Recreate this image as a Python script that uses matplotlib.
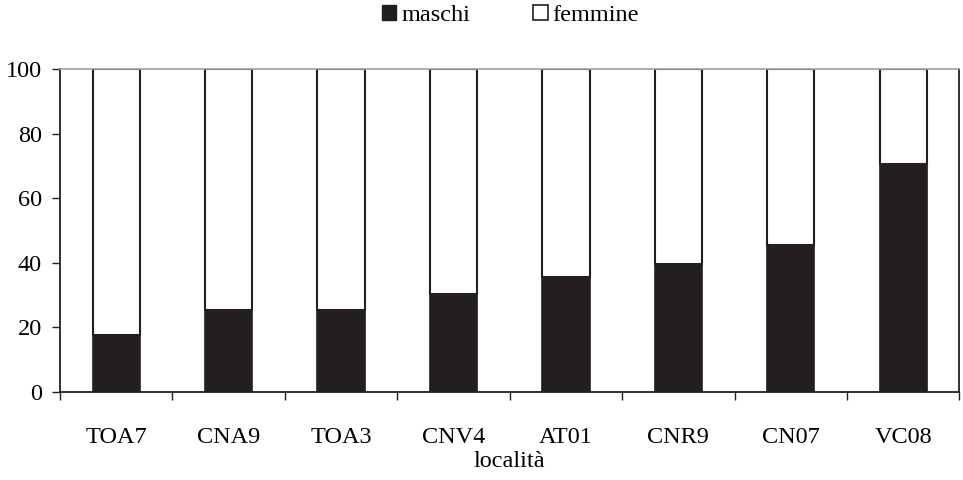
import numpy as np
import matplotlib
matplotlib.use("Agg")
import matplotlib.pyplot as plt
from matplotlib.patches import Patch

# data
localita = ["TOA7", "CNA9", "TOA3", "CNV4", "AT01", "CNR9", "CN07", "VC08"]
maschi = [17.6, 25.5, 25.5, 30.5, 35.5, 39.5, 45.5, 70.5]
femmine = [100 - m for m in maschi]

plt.rcParams["font.family"] = ["Liberation Serif", "DejaVu Serif"]
plt.rcParams["font.size"] = 17.5

fig = plt.figure(figsize=(9.63, 4.8), dpi=100)
ax = fig.add_axes([0.0623, 0.1833, 0.934, 0.6727])

x = np.arange(len(localita))
w = 0.42
ax.bar(x, maschi, w, color="#231f20", edgecolor="#231f20", linewidth=1.2, label="maschi")
ax.bar(x, femmine, w, bottom=maschi, color="white", edgecolor="#231f20", linewidth=1.5, label="femmine")

ax.set_xlim(-0.5, len(localita) - 0.5)
ax.set_ylim(0, 100)
ax.set_yticks(range(0, 101, 20))
ax.set_xticks(x)
ax.set_xticklabels(localita)
ax.set_xticks(np.arange(-0.5, len(localita)), minor=True)
ax.tick_params(axis="x", which="major", length=0, pad=25)
ax.tick_params(axis="x", which="minor", length=6, width=1, direction="out", color="#231f20")
ax.tick_params(axis="y", length=6, width=1, direction="out", pad=7, color="#231f20")

for s in ["left", "right", "bottom"]:
    ax.spines[s].set_color("#231f20")
    ax.spines[s].set_linewidth(1.3)
ax.spines["top"].set_color("#a0a0a0")
ax.spines["top"].set_linewidth(1.2)

ax.set_xlabel("località", labelpad=2)

handles = [Patch(facecolor="#231f20", edgecolor="#231f20"),
           Patch(facecolor="white", edgecolor="#231f20", linewidth=1.2)]
fig.legend(handles, ["maschi", "femmine"], loc="center", bbox_to_anchor=(0.53, 0.968),
           ncol=2, frameon=False, handlelength=0.6, handleheight=0.6,
           handletextpad=0.2, columnspacing=2.6, fontsize=17.5)

fig.savefig("out.png", dpi=100)
